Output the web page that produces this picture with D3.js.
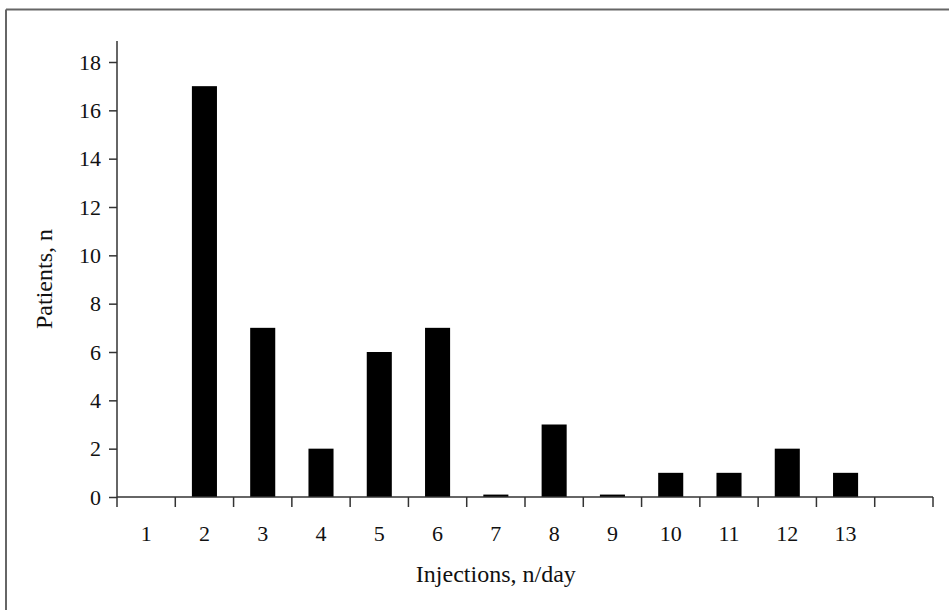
<!DOCTYPE html>
<html>
<head>
<meta charset="utf-8">
<script src="https://cdn.jsdelivr.net/npm/d3@7"></script>
<style>
html,body{margin:0;padding:0;background:#fff;}
svg{display:block;}
text{font-family:"Liberation Serif","Times New Roman",serif;fill:#111;}
</style>
</head>
<body>
<svg id="chart" width="949" height="610"></svg>
<script>
const categories = ["1","2","3","4","5","6","7","8","9","10","11","12","13"];
const patients   = [0, 17, 7, 2, 6, 7, 0.1, 3, 0.1, 1, 1, 2, 1];
const yTicks     = [0, 2, 4, 6, 8, 10, 12, 14, 16, 18];
const xTitle = "Injections, n/day";
const yTitle = "Patients, n";

const svg = d3.select("#chart");
const W = 949, H = 610;
const m = {left: 117, right: 16, top: 62, bottom: 113};

// frame (top and left edges visible)
svg.append("line").attr("x1", 6).attr("x2", W).attr("y1", 9.5).attr("y2", 9.5)
  .attr("stroke", "#666").attr("stroke-width", 2);
svg.append("line").attr("x1", 6).attr("x2", 6).attr("y1", 9.5).attr("y2", H)
  .attr("stroke", "#666").attr("stroke-width", 2);

const slots = categories.concat(["_extra"]);
const x = d3.scaleBand().domain(slots).range([m.left, W - m.right]).padding(0);
const y = d3.scaleLinear().domain([0, 18]).range([H - m.bottom, m.top]);
const axisColor = "#333";

// bars
const barW = x.bandwidth() * 0.43;
svg.append("g").selectAll("rect")
  .data(categories.map((c, i) => ({c, v: patients[i]})).filter(d => d.v > 0))
  .join("rect")
  .attr("x", d => x(d.c) + x.bandwidth() / 2 - barW / 2)
  .attr("width", barW)
  .attr("y", d => y(d.v))
  .attr("height", d => y(0) - y(d.v))
  .attr("fill", "#000");

// y axis
const yAxis = d3.axisLeft(y).tickValues(yTicks).tickSize(8).tickPadding(8).tickSizeOuter(0);
const gy = svg.append("g").attr("transform", `translate(${m.left},0)`).call(yAxis);
gy.select(".domain").remove();
gy.selectAll(".tick line").attr("stroke", axisColor).attr("stroke-width", 1.5);
gy.selectAll(".tick text").style("font-size", "22px").attr("fill", "#111");
gy.append("line").attr("x1", 0).attr("x2", 0)
  .attr("y1", y(0)).attr("y2", y(18.87))
  .attr("stroke", axisColor).attr("stroke-width", 1.5);

// x axis
const gx = svg.append("g").attr("transform", `translate(0,${y(0)})`);
gx.append("line").attr("x1", x.range()[0]).attr("x2", x.range()[1])
  .attr("y1", 0).attr("y2", 0).attr("stroke", axisColor).attr("stroke-width", 1.5);
const boundaries = slots.map(s => x(s) + x.bandwidth()).concat([x.range()[0]]);
gx.selectAll("line.tk").data(boundaries).join("line").attr("class", "tk")
  .attr("x1", d => d).attr("x2", d => d).attr("y1", 0).attr("y2", 10)
  .attr("stroke", axisColor).attr("stroke-width", 1.5);
gx.selectAll("text.lbl").data(categories).join("text").attr("class", "lbl")
  .attr("x", d => x(d) + x.bandwidth() / 2)
  .attr("y", 44)
  .attr("text-anchor", "middle")
  .style("font-size", "22px")
  .text(d => d);

// titles
const plotMid = (x(categories[0]) + x(categories[categories.length - 1]) + x.bandwidth()) / 2;
svg.append("text").attr("x", plotMid).attr("y", 582)
  .attr("text-anchor", "middle").style("font-size", "24px").text(xTitle);
svg.append("text").attr("transform", `translate(52,${279}) rotate(-90)`)
  .attr("text-anchor", "middle").style("font-size", "24px").text(yTitle);
</script>
</body>
</html>
